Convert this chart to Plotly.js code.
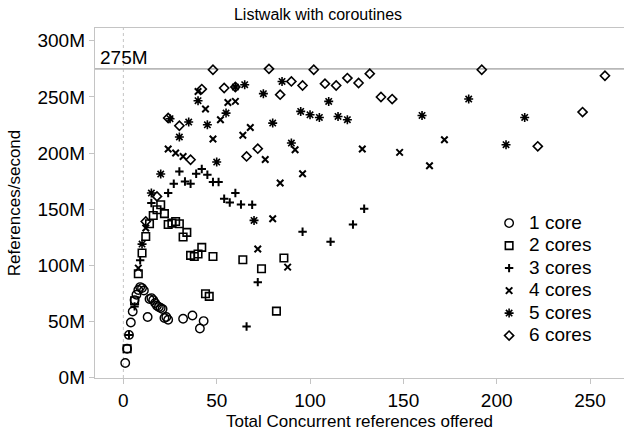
<!DOCTYPE html>
<html><head><meta charset="utf-8">
<script src="https://cdn.plot.ly/plotly-3.0.1.min.js"></script>
<style>html,body{margin:0;padding:0;background:#fff}#chart{width:624px;height:432px}</style>
</head><body><div id="chart"></div>
<script>
// ---- data (millions of references/second) ----
const seriesNames = ["1 core", "2 cores", "3 cores", "4 cores", "5 cores", "6 cores"];

const core1X = [1, 2, 3, 4, 5, 6, 7, 8, 9, 10, 11, 13, 14, 15, 16, 17, 18, 19, 20, 21, 22, 23, 24, 32, 37, 41, 43];
const core1Y = [12.9, 25.7, 38, 49, 58.9, 69, 73.8, 78, 80.6, 79.7, 77.6, 53.9, 70, 70.8, 69, 66.4, 64, 62.8, 61.9, 61, 53, 53.9, 51.5, 52.4, 55.3, 43.7, 50.3];

const core2X = [2, 6, 8, 10, 12, 14, 16, 18, 20, 22, 24, 26, 28, 30, 32, 34, 36, 38, 40, 42, 44, 46, 48, 64, 74, 82, 86];
const core2Y = [25.7, 68.4, 92.5, 111, 125.7, 137, 144.4, 149.5, 154, 146, 136.4, 137.6, 139, 137, 125.2, 129.3, 108.8, 107.9, 110, 116, 74.7, 72.3, 107.9, 105, 96.9, 59.2, 106.5];

const core3X = [3, 6, 9, 15, 24, 27, 30, 33, 36, 39, 42, 45, 48, 51, 54, 57, 60, 63, 66, 69, 72, 96, 111, 123, 129];
const core3Y = [38, 63.4, 104.4, 155.5, 164.4, 172.7, 183.6, 174.7, 172.7, 181.6, 185.8, 180.7, 174.2, 174.2, 159.3, 156, 164.4, 154.2, 45.5, 154, 85, 129.9, 121, 136.4, 150.4];

const core4X = [8, 12, 24, 28, 32, 40, 44, 48, 52, 56, 60, 64, 68, 72, 76, 80, 84, 88, 92, 96, 128, 148, 164, 172];
const core4Y = [97.5, 133.2, 203.6, 200, 197, 254.9, 239.2, 212.5, 229.7, 245.1, 246, 215.8, 222.8, 114.5, 194.3, 141.5, 173.3, 98.4, 203, 181.6, 203.6, 200.6, 188.7, 211.9];

const core5X = [10, 15, 20, 25, 30, 35, 40, 45, 50, 55, 60, 65, 70, 75, 80, 85, 90, 95, 100, 105, 110, 115, 120, 160, 185, 205, 215];
const core5Y = [118.9, 164.4, 181.3, 230.6, 214.3, 227.6, 246.6, 225.2, 192, 235.6, 258.8, 260.9, 140, 252.9, 226.7, 263.8, 208.9, 237.1, 234.1, 231.7, 246, 232.6, 229.7, 233.5, 248.1, 207.4, 231.7];

const core6X = [12, 18, 24, 30, 36, 42, 48, 54, 60, 66, 72, 78, 84, 90, 96, 102, 108, 114, 120, 126, 132, 138, 144, 192, 222, 246, 258];
const core6Y = [139, 161.4, 231.2, 224.3, 194, 257, 274.2, 257.9, 258.8, 197, 203.9, 275, 252, 263.8, 260.2, 274.2, 261.8, 260.2, 266.8, 262.4, 270.7, 249.9, 248.1, 274.2, 206, 236.5, 268.9];

const peakValue = 275;
const peakLabel = "275M";
const xTicks = [0, 50, 100, 150, 200, 250];
const yTicks = [0, 50, 100, 150, 200, 250, 300];

// ---- styles ----
const FONT = "Liberation Sans, Arial, sans-serif";
const markerStyles = [
  {symbol: "circle-open", size: 8.5, line: {width: 1.4, color: "#000"}},
  {symbol: "square-open", size: 7.5, line: {width: 1.6, color: "#000"}},
  {symbol: "cross-thin-open", size: 6, line: {width: 2, color: "#000"}},
  {symbol: "x-thin-open", size: 6.5, line: {width: 2, color: "#000"}},
  {symbol: "asterisk-open", size: 7.5, line: {width: 1.6, color: "#000"}},
  {symbol: "diamond-open", size: 7, line: {width: 1.6, color: "#000"}}
];

const xs = [core1X, core2X, core3X, core4X, core5X, core6X];
const ys = [core1Y, core2Y, core3Y, core4Y, core5Y, core6Y];

const traces = seriesNames.map((name, i) => ({
  type: "scatter", mode: "markers",
  name: '<span style="font-size:19px">' + name + '</span>',
  x: xs[i], y: ys[i],
  marker: Object.assign({color: "#000"}, markerStyles[i]),
  cliponaxis: false
}));

const gray = "#c4c4c4";
const layout = {
  width: 624, height: 432,
  margin: {l: 95, r: 0, t: 28, b: 54},
  paper_bgcolor: "#fff", plot_bgcolor: "#fff",
  font: {family: FONT, size: 19, color: "#000"},
  title: {text: "Listwalk with coroutines", x: 318/624, xref: "container", xanchor: "center",
          y: 1 - 14/432, yref: "container", yanchor: "middle", font: {family: FONT, size: 16, color: "#000"}},
  showlegend: true,
  legend: {x: 0.745, y: 0.489, xanchor: "left", yanchor: "top", bgcolor: "rgba(0,0,0,0)",
           font: {family: FONT, size: 15, color: "#000"}, itemwidth: 30, tracegroupgap: 0},
  xaxis: {
    range: [-15.2, 268.2], tickvals: xTicks, ticktext: xTicks.map(String),
    showgrid: false, zeroline: false, showline: true, linecolor: gray, linewidth: 1.2, mirror: true,
    ticks: "outside", ticklen: 5, tickcolor: gray, tickwidth: 1,
    tickfont: {family: FONT, size: 19, color: "#000"},
    title: {text: "Total Concurrent references offered", standoff: 5, font: {family: FONT, size: 17, color: "#000"}},
    automargin: false
  },
  yaxis: {
    range: [-0.4, 311.4], tickvals: yTicks, ticktext: yTicks.map(v => v + "M"),
    showgrid: false, zeroline: false, showline: true, linecolor: gray, linewidth: 1.2,
    ticks: "outside", ticklen: 5, tickcolor: gray, tickwidth: 1,
    tickfont: {family: FONT, size: 19, color: "#000"},
    title: {text: "References/second", standoff: 12, font: {family: FONT, size: 17, color: "#000"}},
    automargin: false
  },
  shapes: [
    {type: "line", xref: "x", yref: "paper", x0: 0, x1: 0, y0: 0, y1: 1,
     line: {color: gray, width: 1, dash: "dot"}, layer: "below"},
    {type: "line", xref: "paper", yref: "y", x0: 0, x1: 1, y0: peakValue, y1: peakValue,
     line: {color: "#b8b8b8", width: 1.8}, layer: "below"}
  ],
  annotations: [
    {xref: "paper", yref: "y", x: 0.005, y: peakValue, xanchor: "left", yanchor: "bottom",
     text: peakLabel, showarrow: false, font: {family: FONT, size: 19, color: "#000"}, yshift: -1}
  ]
};

Plotly.newPlot("chart", traces, layout, {staticPlot: true, displayModeBar: false});
</script>
</body></html>
